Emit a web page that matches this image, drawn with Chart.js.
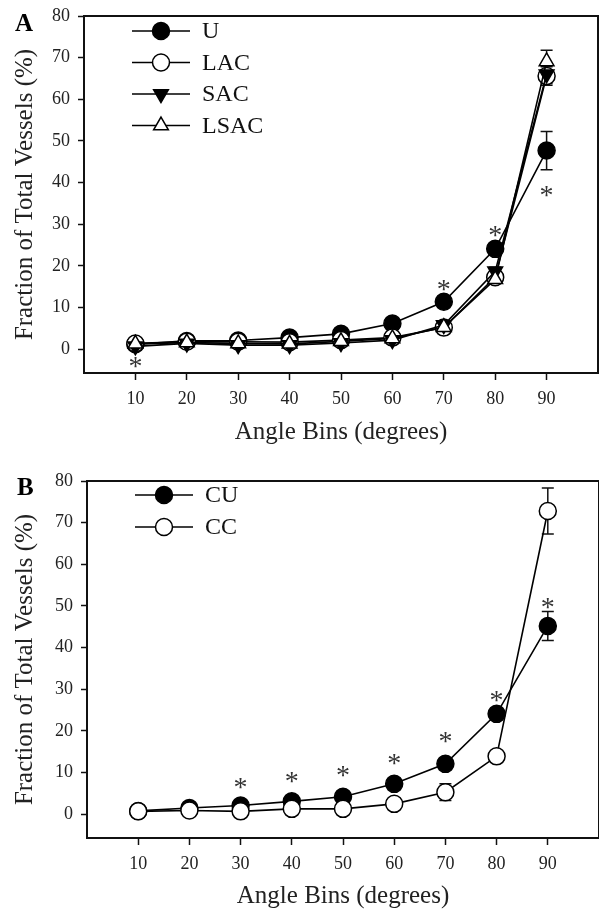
<!DOCTYPE html>
<html lang="en">
<head>
<meta charset="UTF-8" />
<title>Fraction of Total Vessels by Angle Bin</title>
<script src="https://cdn.jsdelivr.net/npm/chart.js"></script>
<style>
  body { margin: 0; background: #fff; width: 599px; height: 912px; overflow: hidden; }
  .panel { position: absolute; left: 0; width: 599px; }
  #panelA { top: 0; height: 460px; }
  #panelB { top: 460px; height: 452px; }
</style>
</head>
<body>
<div class="panel" id="panelA"><canvas id="chartA"></canvas></div>
<div class="panel" id="panelB"><canvas id="chartB"></canvas></div>
<script>
// shared axes
const angleBins = [10, 20, 30, 40, 50, 60, 70, 80, 90];
const yTicks = [0, 10, 20, 30, 40, 50, 60, 70, 80];

// panel A
const uValues    = [1.2, 2.0, 2.1, 2.8, 3.7, 6.2, 11.4, 24.1, 47.7];
const uErrors    = [0.3, 0.3, 0.3, 0.4, 0.4, 0.5, 0.8, 1.0, 4.6];
const lacValues  = [1.4, 1.8, 1.8, 1.7, 2.2, 2.8, 5.2, 17.3, 65.6];
const lacErrors  = [0.3, 0.3, 0.3, 0.3, 0.3, 0.4, 0.6, 1.0, 2.2];
const sacValues  = [0.7, 1.4, 1.0, 1.0, 1.5, 2.2, 5.8, 18.7, 66.0];
const sacErrors  = [0.3, 0.3, 0.3, 0.3, 0.3, 0.4, 0.6, 1.0, 2.2];
const lsacValues = [1.3, 1.6, 1.4, 1.3, 1.9, 2.6, 5.3, 16.8, 69.1];
const lsacErrors = [0.3, 0.3, 0.3, 0.3, 0.3, 0.4, 0.6, 1.0, 2.7];
const starsA = [{x: 10, y: -3.2}, {x: 70, y: 15.2}, {x: 80, y: 28.2}, {x: 90, y: 37.8}];

// panel B
const cuValues = [0.8, 1.5, 2.1, 3.1, 4.2, 7.3, 12.1, 24.1, 45.2];
const cuErrors = [0.2, 0.3, 0.3, 0.4, 0.5, 0.7, 0.8, 1.0, 3.5];
const ccValues = [0.7, 0.9, 0.7, 1.3, 1.3, 2.5, 5.3, 13.9, 72.8];
const ccErrors = [0.2, 0.2, 0.2, 0.3, 0.3, 0.4, 2.0, 0.8, 5.5];
const starsB = [{x: 30, y: 7.5}, {x: 40, y: 8.9}, {x: 50, y: 10.3}, {x: 60, y: 13.1},
                {x: 70, y: 18.5}, {x: 80, y: 28.3}, {x: 90, y: 50.7}];

const SERIF = "'Liberation Serif', 'Times New Roman', serif";
const POINT_R = 8.5;

function series(label, values, errors, filled, style, rotation, order) {
  return {
    label,
    data: angleBins.map((x, i) => ({x, y: values[i]})),
    errors,
    order,
    borderColor: '#000',
    borderWidth: 1.6,
    pointStyle: style,
    pointRotation: rotation,
    pointRadius: POINT_R,
    pointBorderWidth: 1.5,
    pointBorderColor: '#000',
    pointBackgroundColor: filled ? '#000' : '#fff',
    tension: 0
  };
}

function drawMarker(ctx, ds, x, y) {
  ctx.save();
  ctx.beginPath();
  if (ds.pointStyle === 'triangle') {
    let rad = (ds.pointRotation || 0) * Math.PI / 180;
    for (let k = 0; k < 3; k++) {
      const px = x + Math.sin(rad) * POINT_R, py = y - Math.cos(rad) * POINT_R;
      k === 0 ? ctx.moveTo(px, py) : ctx.lineTo(px, py);
      rad += 2 * Math.PI / 3;
    }
    ctx.closePath();
  } else {
    ctx.arc(x, y, POINT_R, 0, Math.PI * 2);
  }
  ctx.fillStyle = ds.pointBackgroundColor;
  ctx.fill();
  ctx.lineWidth = 1.5;
  ctx.strokeStyle = '#000';
  ctx.stroke();
  ctx.restore();
}

const extras = {
  id: 'extras',
  beforeDatasetsDraw(chart, args, opts) {
    const {ctx, chartArea: a, scales: {x, y}} = chart;
    ctx.save();
    // frame
    ctx.lineWidth = 2;
    ctx.strokeStyle = '#111';
    ctx.strokeRect(a.left, a.top, a.right - a.left, a.bottom - a.top);
    // error bars
    ctx.lineWidth = 1.5;
    chart.data.datasets.forEach(ds => {
      ds.data.forEach((p, i) => {
        const e = ds.errors[i];
        const px = x.getPixelForValue(p.x);
        const top = y.getPixelForValue(p.y + e), bot = y.getPixelForValue(p.y - e);
        ctx.beginPath();
        ctx.moveTo(px, top); ctx.lineTo(px, bot);
        ctx.moveTo(px - 6, top); ctx.lineTo(px + 6, top);
        ctx.moveTo(px - 6, bot); ctx.lineTo(px + 6, bot);
        ctx.stroke();
      });
    });
    ctx.restore();
  },
  afterDraw(chart, args, opts) {
    const {ctx, chartArea: a, scales: {x, y}} = chart;
    ctx.save();
    // significance stars
    ctx.font = '28px ' + SERIF;
    ctx.fillStyle = '#333';
    ctx.textAlign = 'center';
    ctx.textBaseline = 'alphabetic';
    const m = ctx.measureText('*');
    const shift = (m.actualBoundingBoxAscent - m.actualBoundingBoxDescent) / 2;
    opts.stars.forEach(s => {
      ctx.fillText('*', x.getPixelForValue(s.x), y.getPixelForValue(s.y) + shift);
    });
    // legend
    const sets = chart.data.datasets;
    sets.forEach((ds, i) => {
      const ly = a.top + opts.legendTop + i * opts.legendGap;
      ctx.beginPath();
      ctx.lineWidth = 1.6;
      ctx.strokeStyle = '#000';
      ctx.moveTo(a.left + 48, ly); ctx.lineTo(a.left + 106, ly);
      ctx.stroke();
      drawMarker(ctx, ds, a.left + 77, ly);
      ctx.font = '24px ' + SERIF;
      ctx.fillStyle = '#111';
      ctx.textAlign = 'left';
      ctx.textBaseline = 'middle';
      ctx.fillText(ds.label, a.left + 118, ly + 1);
    });
    // panel letter
    ctx.font = 'bold 25px ' + SERIF;
    ctx.fillStyle = '#000';
    ctx.textAlign = 'left';
    ctx.textBaseline = 'alphabetic';
    ctx.fillText(opts.letter, opts.letterX, opts.letterY);
    ctx.restore();
  }
};

function makeChart(id, datasets, cfg) {
  new Chart(document.getElementById(id), {
    type: 'line',
    data: {datasets},
    plugins: [extras],
    options: {
      responsive: true,
      maintainAspectRatio: false,
      animation: false,
      layout: {autoPadding: false, padding: {top: cfg.padTop, right: cfg.padRight, left: 0, bottom: 0}},
      plugins: {
        legend: {display: false},
        tooltip: {enabled: false},
        extras: cfg.extras
      },
      scales: {
        x: {
          type: 'linear',
          min: 0,
          max: 100,
          afterBuildTicks: s => { s.ticks = angleBins.map(v => ({value: v})); },
          afterFit: s => { s.height = cfg.xHeight; s.paddingLeft = 0; s.paddingRight = 0; },
          grid: {drawOnChartArea: false, drawTicks: true, tickLength: 7, tickWidth: 1.5, tickColor: '#111'},
          border: {display: false},
          ticks: {color: '#222', font: {family: SERIF, size: 18}, padding: 8, maxRotation: 0},
          title: {display: true, text: 'Angle Bins (degrees)', color: '#222',
                  font: {family: SERIF, size: 25}, padding: {top: 0, bottom: cfg.xTitlePad}}
        },
        y: {
          type: 'linear',
          min: -5.7,
          max: 80,
          afterBuildTicks: s => { s.ticks = yTicks.map(v => ({value: v})); },
          afterFit: s => { s.width = cfg.yWidth; s.paddingTop = 0; s.paddingBottom = 0; },
          grid: {drawOnChartArea: false, drawTicks: true, tickLength: 6, tickWidth: 1.5, tickColor: '#111'},
          border: {display: false},
          ticks: {color: '#222', font: {family: SERIF, size: 18}, padding: 8},
          title: {display: true, text: 'Fraction of Total Vessels (%)', color: '#222',
                  font: {family: SERIF, size: 25}, padding: {top: 10, bottom: 0}}
        }
      }
    }
  });
}

makeChart('chartA', [
  series('U', uValues, uErrors, true, 'circle', 0, 4),
  series('LAC', lacValues, lacErrors, false, 'circle', 0, 3),
  series('SAC', sacValues, sacErrors, true, 'triangle', 180, 2),
  series('LSAC', lsacValues, lsacErrors, false, 'triangle', 0, 1)
], {
  padTop: 16, padRight: 1, xHeight: 87, yWidth: 84, xTitlePad: 13,
  extras: {stars: starsA, letter: 'A', letterX: 15, letterY: 31, legendTop: 15, legendGap: 31.5}
});

makeChart('chartB', [
  series('CU', cuValues, cuErrors, true, 'circle', 0, 2),
  series('CC', ccValues, ccErrors, false, 'circle', 0, 1)
], {
  padTop: 21, padRight: 0, xHeight: 74, yWidth: 87, xTitlePad: 1,
  extras: {stars: starsB, letter: 'B', letterX: 17, letterY: 35, legendTop: 14, legendGap: 32}
});
</script>
</body>
</html>
